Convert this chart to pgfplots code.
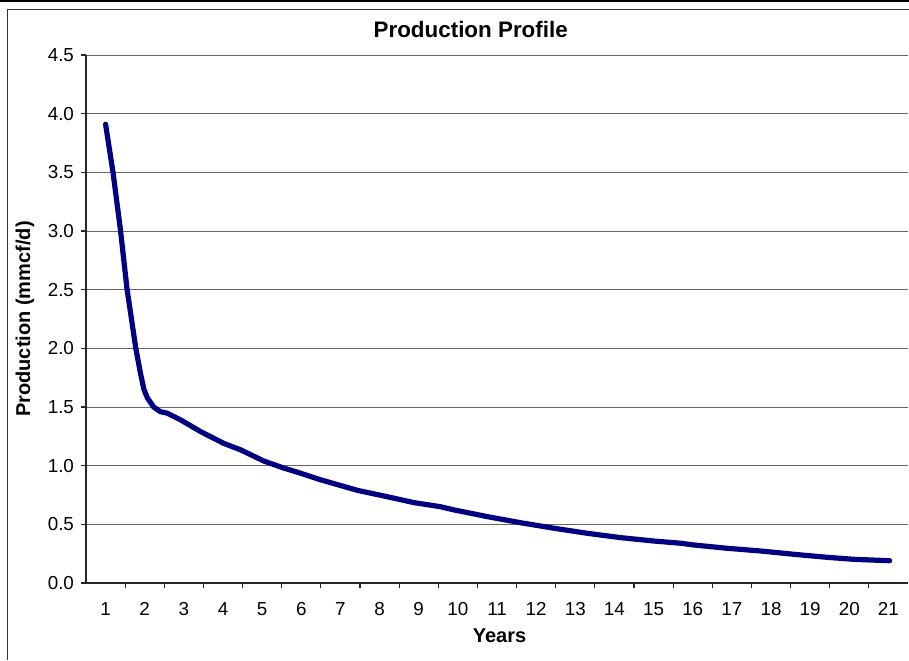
\documentclass[border=0pt]{standalone}
\usepackage{pgfplots}
\pgfplotsset{compat=1.18}
\usepackage{fontspec}
\setmainfont{Liberation Sans}
\definecolor{navyline}{RGB}{0,0,128}
\begin{document}
\begin{tikzpicture}[x=0.5pt,y=0.5pt]
\path[use as bounding box] (0,0) rectangle (909,660);
\draw[line width=1pt] (0,659.2) -- (909,659.2);
\draw[line width=0.6pt,black!80] (7.3,0) -- (7.3,650.5) -- (909,650.5);
\begin{axis}[
  at={(43pt,38.5pt)}, anchor=south west,
  scale only axis, width=411pt, height=264pt,
  xmin=0.5, xmax=21.5, ymin=0, ymax=4.5,
  axis x line*=bottom, axis y line*=left,
  axis line style={-, line width=0.8pt, black!85},
  xtick={1,...,21},
  minor xtick={1.5,2.5,...,20.5},
  major x tick style={draw=none},
  minor x tick style={black!85, line width=0.6pt},
  minor tick length=2.5pt,
  ytick={0,0.5,...,4.5},
  major tick length=2.5pt,
  tick align=outside,
  y tick style={black!85, line width=0.6pt},
  ymajorgrids,
  grid style={black!60, line width=0.5pt},
  yticklabel={\pgfmathprintnumber[fixed,fixed zerofill,precision=1]{\tick}},
  /pgf/number format/assume math mode=true,
  ticklabel style={font=\fontsize{9.4}{10}\selectfont},
  yticklabel style={xshift=0pt},
  xticklabel style={yshift=-3.5pt},
  title={\textbf{Production Profile}},
  title style={at={(rel axis cs:0.468,1)}, anchor=base, yshift=3pt, font=\fontsize{11.2}{12}\selectfont},
  xlabel={\textbf{Years}},
  xlabel style={at={(rel axis cs:0.503,0)}, anchor=base, yshift=-29.7pt, font=\fontsize{10}{12}\selectfont},
  ylabel={\textbf{Production (mmcf/d)}},
  ylabel style={at={(rel axis cs:0,0.5)}, anchor=center, yshift=30.5pt, font=\fontsize{10}{12}\selectfont},
  clip=false,
]
\addplot[navyline, line width=2.6pt, line join=round, line cap=round] coordinates {
(1.00,3.91) (1.19,3.50) (1.38,3.01) (1.55,2.50) (1.64,2.30) (1.77,2.005)
(1.89,1.79) (1.98,1.65) (2.07,1.576) (2.23,1.50) (2.40,1.46) (2.57,1.448)
(2.92,1.39) (3.43,1.29) (4.02,1.19) (4.45,1.135) (5.04,1.04) (5.55,0.98)
(5.98,0.936) (6.49,0.88) (7.43,0.79) (8.19,0.736) (8.88,0.685) (9.56,0.65)
(9.9,0.623) (10.75,0.566) (11.6,0.514) (12.45,0.467) (13.3,0.424) (14.15,0.387)
(15.0,0.358) (15.69,0.339) (16.03,0.324) (16.88,0.296) (17.73,0.273) (18.58,0.245)
(19.43,0.219) (20.11,0.202) (21.03,0.19)
};
\end{axis}
\end{tikzpicture}
\end{document}
